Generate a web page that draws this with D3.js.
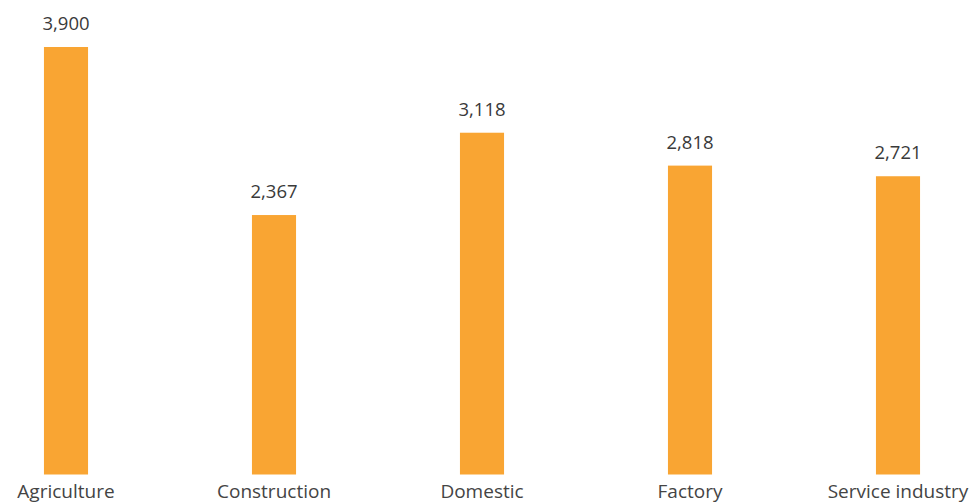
<!DOCTYPE html>
<html>
<head>
<meta charset="utf-8">
<script src="https://cdn.jsdelivr.net/npm/d3@7"></script>
<style>
  html, body { margin: 0; padding: 0; background: #fff; }
  svg { display: block; }
  text { font-family: "Open Sans", "Noto Sans", sans-serif; }
</style>
</head>
<body>
<svg id="chart" width="972" height="502"></svg>
<script>
const categories = ["Agriculture", "Construction", "Domestic", "Factory", "Service industry"];
const values = [3900, 2367, 3118, 2818, 2721];

const width = 972, height = 502;
const svg = d3.select("#chart");

const x = d3.scaleBand()
  .domain(categories)
  .range([-38, 1002])
  .paddingInner(0.788)
  .paddingOuter(0.394);

const y = d3.scaleLinear()
  .domain([0, 3900])
  .range([474.5, 47]);

const data = categories.map((c, i) => ({ category: c, value: values[i] }));

svg.append("g")
  .selectAll("rect")
  .data(data)
  .join("rect")
  .attr("x", d => x(d.category))
  .attr("y", d => y(d.value))
  .attr("width", x.bandwidth())
  .attr("height", d => y(0) - y(d.value))
  .attr("fill", "#F9A533");

svg.append("g")
  .selectAll("text")
  .data(data)
  .join("text")
  .attr("x", d => x(d.category) + x.bandwidth() / 2)
  .attr("y", d => y(d.value) - 17)
  .attr("text-anchor", "middle")
  .attr("font-size", 18.5)
  .attr("fill", "#3a3a3a")
  .text(d => d3.format(",")(d.value));

const xAxis = svg.append("g")
  .attr("transform", `translate(0,${y(0)})`)
  .call(d3.axisBottom(x).tickSize(0).tickPadding(0));
xAxis.select(".domain").remove();
xAxis.selectAll("text")
  .attr("dy", null)
  .attr("y", 23.5)
  .attr("font-size", 19)
  .attr("font-family", "\"Open Sans\", \"Noto Sans\", sans-serif")
  .attr("fill", "#444");
</script>
</body>
</html>
